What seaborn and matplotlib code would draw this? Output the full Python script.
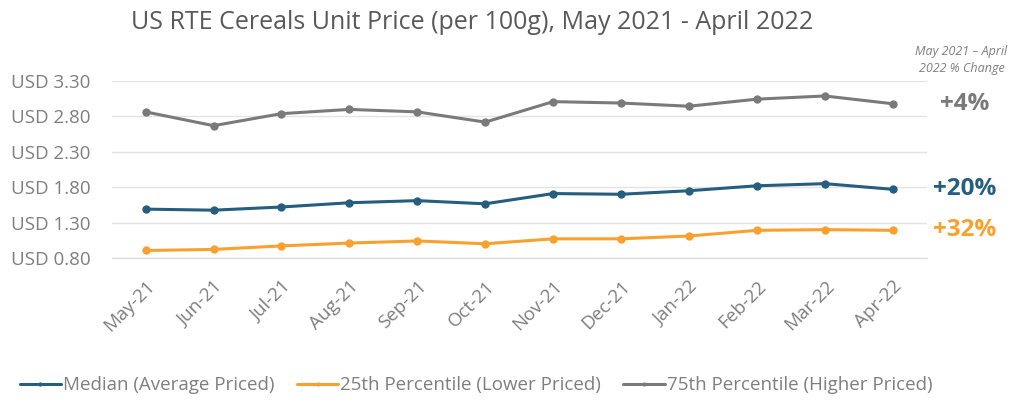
import pandas as pd
import numpy as np
import matplotlib.pyplot as plt
import seaborn as sns

sns.set_style('white')
plt.rcParams['font.family'] = ['Open Sans', 'DejaVu Sans']

months = ['May-21', 'Jun-21', 'Jul-21', 'Aug-21', 'Sep-21', 'Oct-21',
          'Nov-21', 'Dec-21', 'Jan-22', 'Feb-22', 'Mar-22', 'Apr-22']
median = [1.49, 1.475, 1.52, 1.58, 1.61, 1.565, 1.71, 1.70, 1.75, 1.82, 1.85, 1.77]
p25 = [0.905, 0.92, 0.97, 1.01, 1.04, 1.00, 1.07, 1.07, 1.11, 1.19, 1.20, 1.19]
p75 = [2.865, 2.67, 2.84, 2.90, 2.865, 2.72, 3.01, 2.99, 2.945, 3.045, 3.09, 2.98]
series = ['Median (Average Priced)', '25th Percentile (Lower Priced)', '75th Percentile (Higher Priced)']
changes = ['+20%', '+32%', '+4%']
yticks = [0.80, 1.30, 1.80, 2.30, 2.80, 3.30]

colors = ['#255e7e', '#f9a12e', '#7a7a7a']

df = pd.DataFrame({
    'month': list(range(len(months))) * 3,
    'price': median + p25 + p75,
    'series': [s for s in series for _ in months],
})

fig = plt.figure(figsize=(10.24, 4.16), dpi=100)
ax = fig.add_axes([0.109, 0.380, 0.796, 0.425])
sns.lineplot(data=df, x='month', y='price', hue='series', palette=colors,
             marker='o', markersize=6, markeredgewidth=0, linewidth=2.2, ax=ax)

ax.set_xlim(-0.5, len(months) - 0.5)
ax.set_ylim(0.80, 3.30)
ax.set_yticks(yticks)
ax.set_yticklabels([f'USD {v:.2f}' for v in yticks], color='#7f7f7f', fontsize=13.5)
ax.grid(axis='y', color='#e3e3e3', linewidth=1)
ax.set_axisbelow(True)
ax.set_xticks(range(len(months)))
ax.set_xticklabels(months, rotation=45, ha='right', rotation_mode='anchor',
                   color='#7f7f7f', fontsize=13.5)
ax.set_xticks(np.arange(-0.5, len(months)), minor=True)
ax.tick_params(axis='x', which='major', length=0, pad=14)
ax.tick_params(axis='x', which='minor', length=5, color='#d9d9d9')
ax.tick_params(axis='y', length=0, pad=15)
ax.set_xlabel('')
ax.set_ylabel('')
for s in ['top', 'right', 'left']:
    ax.spines[s].set_visible(False)
ax.spines['bottom'].set_color('#d9d9d9')

# end-of-line % change labels
last = [median[-1], p25[-1], p75[-1]]
for val, txt, col in zip(last, changes, colors):
    ax.annotate(txt, xy=(len(months) - 1, val), xytext=(52, 0), textcoords='offset points',
                color=col, fontsize=17.5, fontweight='bold', ha='center', va='center')
fig.text(0.939, 0.855, 'May 2021 \u2013 April\n2022 % Change', ha='center', va='center',
         fontsize=9, style='italic', color='#7f7f7f', linespacing=1.4)

fig.text(0.461, 0.945, 'US RTE Cereals Unit Price (per 100g), May 2021 - April 2022',
         ha='center', va='center', fontsize=18, color='#595959')

leg = ax.legend(loc='upper center', bbox_to_anchor=(0.447, -0.575), ncol=3, frameon=False,
                fontsize=13.5, handlelength=2.2, handletextpad=0.1, columnspacing=1.2,
                markerscale=0.5)
for t in leg.get_texts():
    t.set_color('#7f7f7f')

fig.savefig('out.png', dpi=100)
